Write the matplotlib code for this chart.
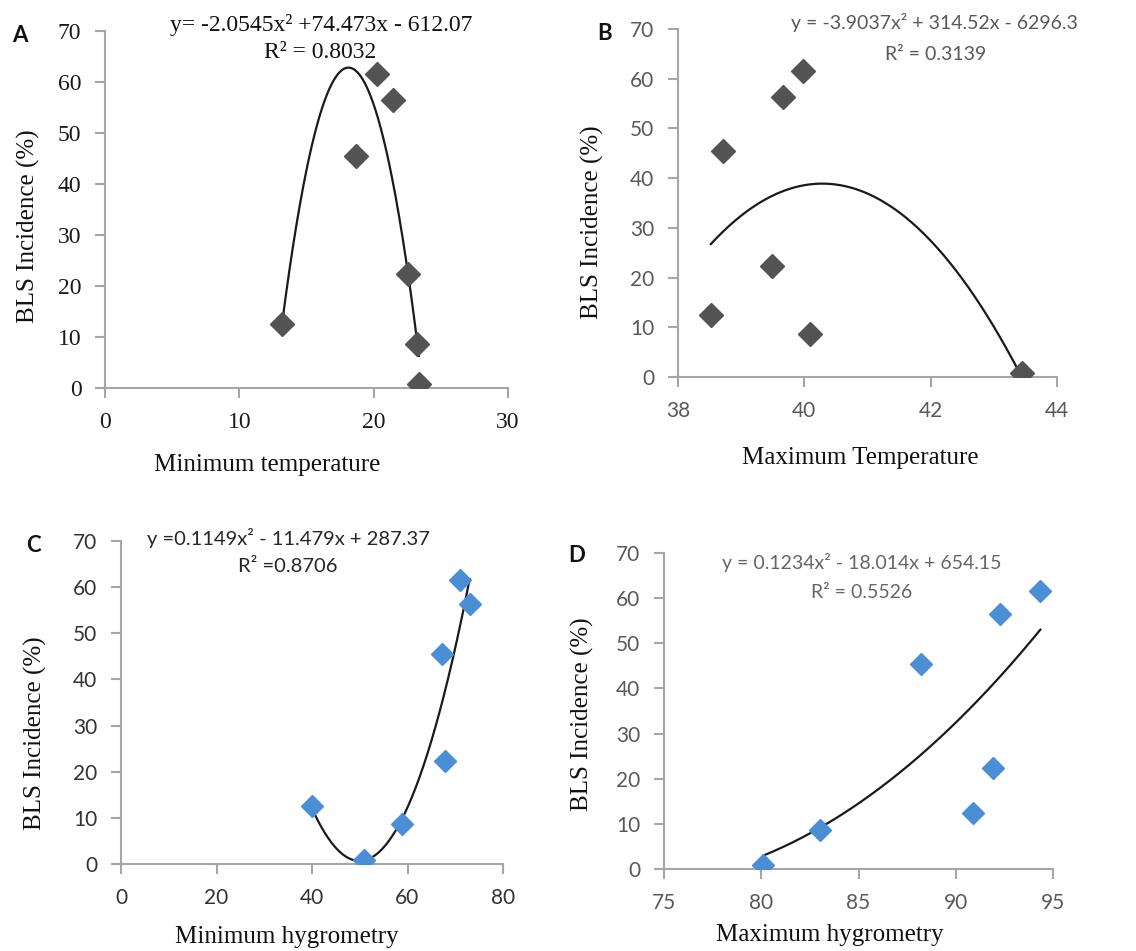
import numpy as np
import matplotlib
matplotlib.use('Agg')
import matplotlib.pyplot as plt

# data (BLS incidence vs climate variables)
incidence = [12.5, 45.5, 61.5, 56.4, 22.4, 8.6, 0.8]

min_temp = [13.15, 18.66, 20.27, 21.47, 22.53, 23.2, 23.37]
max_temp = [38.52, 38.71, 39.98, 39.66, 39.49, 40.09, 43.44]
min_hygro = [40.0, 67.2, 71.06, 73.0, 67.9, 58.8, 50.8]
max_hygro = [90.9, 88.2, 94.35, 92.25, 91.9, 83.0, 80.1]

# trendline coefficients printed on each panel (x^2, x, 1)
coef_A = [-2.0545, 74.473, -612.07]
coef_B = [-3.9037, 314.52, -6296.3]
coef_C = [0.1149, -11.479, 287.37]
coef_D = [0.1234, -18.014, 654.15]

eq_A = ["y= -2.0545x\u00b2 +74.473x - 612.07", "R\u00b2 = 0.8032"]
eq_B = ["y = -3.9037x\u00b2 + 314.52x - 6296.3", "R\u00b2 = 0.3139"]
eq_C = ["y =0.1149x\u00b2 - 11.479x + 287.37", "R\u00b2 =0.8706"]
eq_D = ["y = 0.1234x\u00b2 - 18.014x + 654.15", "R\u00b2 = 0.5526"]

W, H = 1136, 951
fig = plt.figure(figsize=(W/100, H/100), dpi=100)
fig.patch.set_facecolor('white')

GRAY_MK = '#535353'
BLUE_MK = '#4a8fd6'
SERIF = 'Liberation Serif'
SANS = 'Lato'


def ax_at(l, r, t, b):
    return fig.add_axes([l/W, 1-b/H, (r-l)/W, (b-t)/H])


def panel(box, x, coef, xlim, xticks, mcol, ms, tickfont, tickcol, ticksize):
    ax = ax_at(*box)
    ax.plot(x, incidence, linestyle='none', marker='D', ms=ms, color=mcol, zorder=3)
    xx = np.linspace(min(x), max(x), 200)
    ax.plot(xx, np.polyval(coef, xx), color='#1a1a1a', lw=1.6, zorder=2)
    ax.set_xlim(*xlim)
    ax.set_ylim(0, 70)
    ax.set_xticks(xticks)
    ax.set_yticks(range(0, 71, 10))
    for s in ['top', 'right']:
        ax.spines[s].set_visible(False)
    for s in ['left', 'bottom']:
        ax.spines[s].set_color('#a6a6a6')
        ax.spines[s].set_linewidth(1.5)
    ax.tick_params(direction='out', length=7, width=1.5, color='#a6a6a6',
                   labelcolor=tickcol, labelsize=ticksize, pad=10)
    for lab in ax.get_xticklabels() + ax.get_yticklabels():
        lab.set_family(tickfont)
    ax.patch.set_alpha(0)
    return ax


panel((105, 508, 31, 388), min_temp, coef_A, (0, 30), [0, 10, 20, 30],
      GRAY_MK, 12.5, SERIF, '#1a1a1a', 17)
panel((678, 1057, 29, 377), max_temp, coef_B, (38, 44), [38, 40, 42, 44],
      GRAY_MK, 12.5, SANS, '#595959', 15)
panel((121, 503, 541, 864), min_hygro, coef_C, (0, 80), [0, 20, 40, 60, 80],
      BLUE_MK, 11, SANS, '#333333', 15)
panel((664, 1053, 553, 869), max_hygro, coef_D, (75, 95), [75, 80, 85, 90, 95],
      BLUE_MK, 11, SANS, '#595959', 15)


def ftext(x, y, s, **kw):
    fig.text(x/W, 1-y/H, s, ha=kw.pop('ha', 'center'), va=kw.pop('va', 'center'), **kw)


# panel letters
for lx, ly, letter in [(20, 35, 'A'), (605, 33, 'B'), (33, 545, 'C'), (577, 555, 'D')]:
    ftext(lx, ly, letter, family=SANS, weight='bold', fontsize=16, color='#111111')

# y labels
for lx, ly in [(28, 226), (592, 222), (35, 733), (582, 714)]:
    ftext(lx, ly, 'BLS Incidence (%)', family=SERIF, fontsize=18, rotation=90, color='#111111')

# x labels
for lx, ly, s in [(267, 465, 'Minimum temperature'), (860, 458, 'Maximum Temperature'),
                  (287, 937, 'Minimum hygrometry'), (830, 935, 'Maximum hygrometry')]:
    ftext(lx, ly, s, family=SERIF, fontsize=18, color='#111111')

# trendline equations
ftext(321, 25, eq_A[0], family=SERIF, fontsize=17, color='#111111')
ftext(320, 52, eq_A[1], family=SERIF, fontsize=17, color='#111111')
ftext(934, 22, eq_B[0], family=SANS, fontsize=14, color='#595959')
ftext(936, 55, eq_B[1], family=SANS, fontsize=14, color='#595959')
ftext(288, 538, eq_C[0], family=SANS, fontsize=14.5, color='#262626')
ftext(288, 566, eq_C[1], family=SANS, fontsize=14.5, color='#262626')
ftext(862, 562, eq_D[0], family=SANS, fontsize=14, color='#666666')
ftext(862, 592, eq_D[1], family=SANS, fontsize=14, color='#666666')

fig.savefig('out.png', dpi=100, facecolor='white')
